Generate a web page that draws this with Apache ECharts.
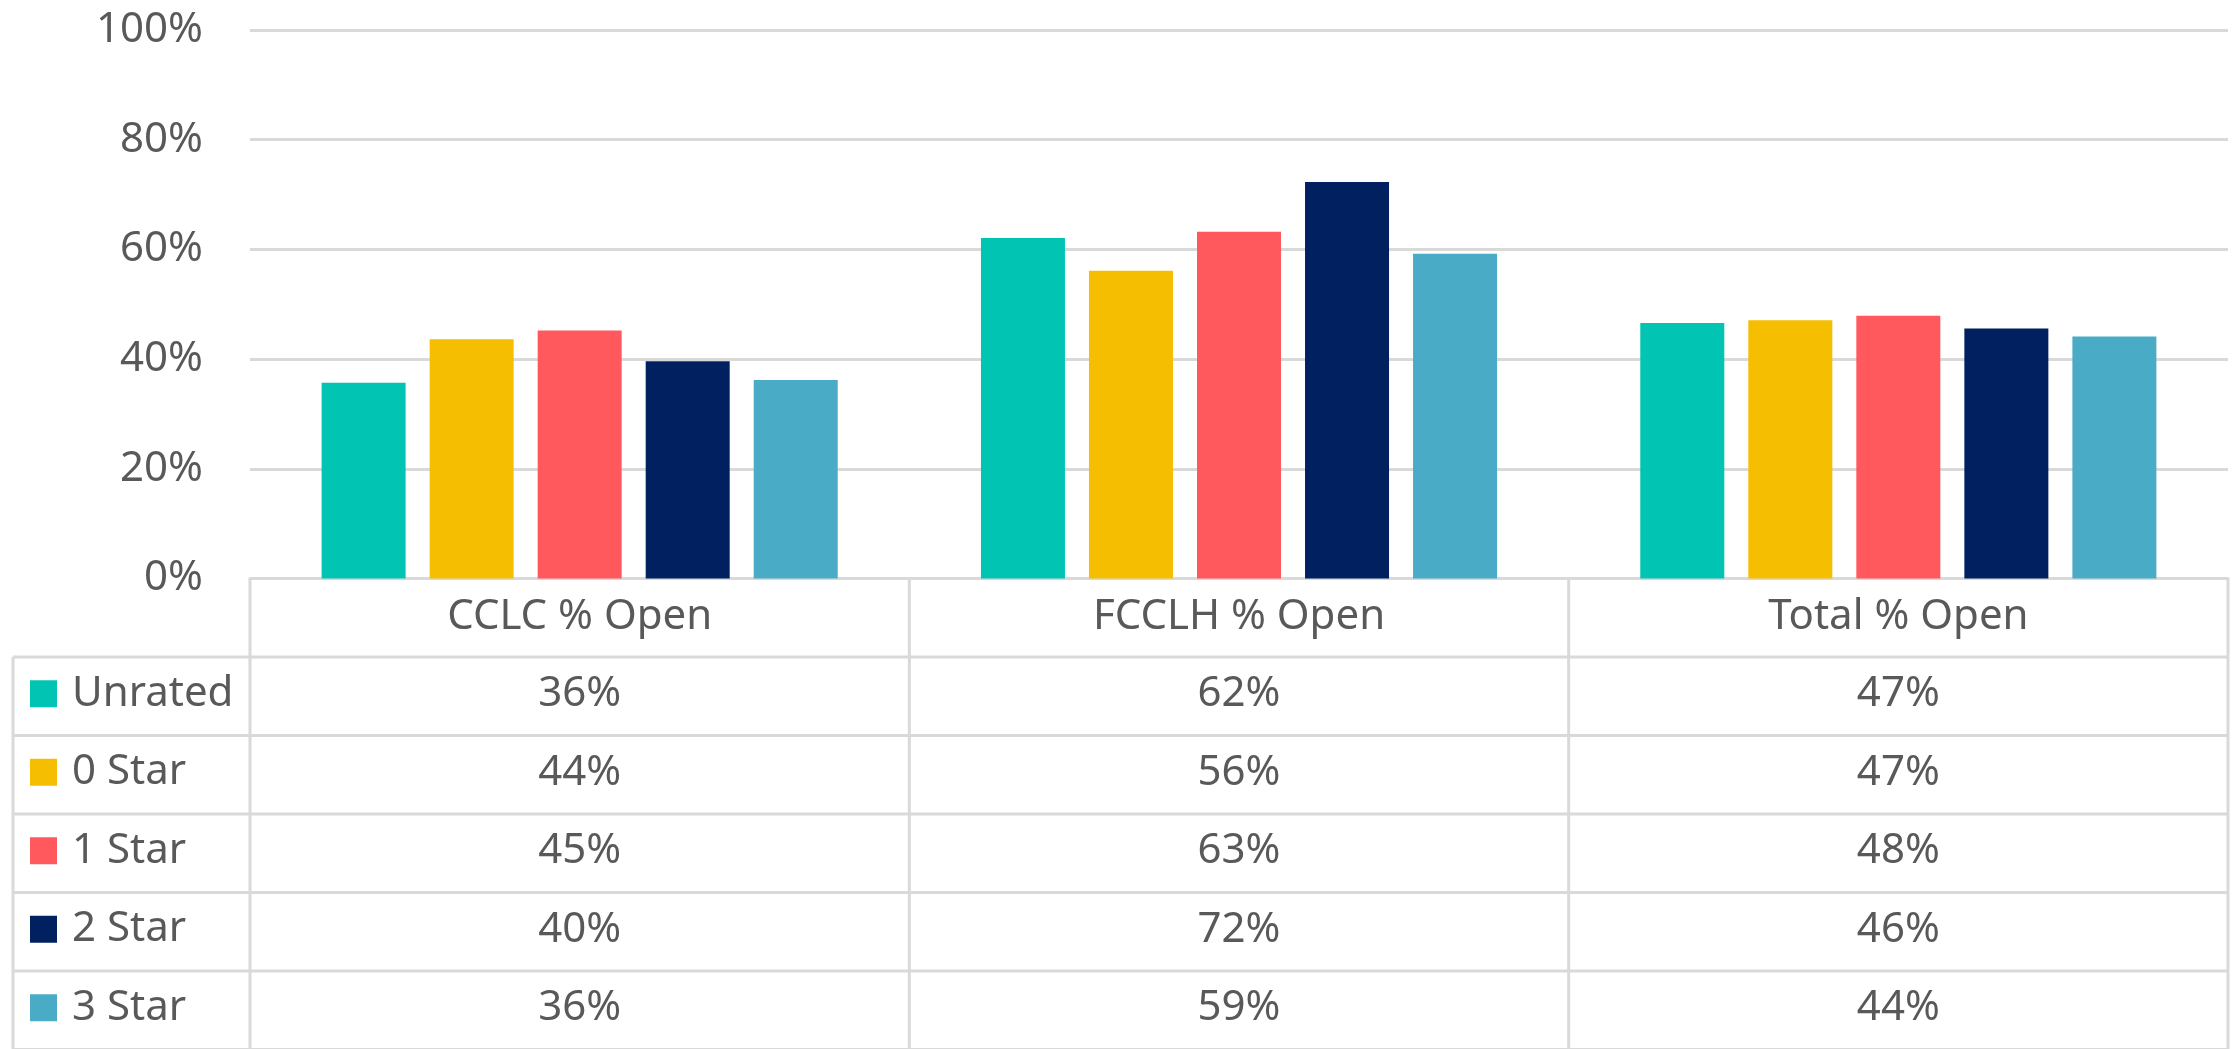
<!DOCTYPE html>
<html>
<head>
<meta charset="utf-8">
<script src="https://cdn.jsdelivr.net/npm/echarts@6/dist/echarts.min.js"></script>
<style>
  html, body { margin: 0; padding: 0; background: #ffffff; }
  #chart { width: 2239px; height: 1049px; }
</style>
</head>
<body>
<div id="chart"></div>
<script>
// ---- data ----
const categories = ['CCLC % Open', 'FCCLH % Open', 'Total % Open'];
const seriesNames = ['Unrated', '0 Star', '1 Star', '2 Star', '3 Star'];
const unrated = [35.7, 62.1, 46.6];
const star0 = [43.6, 56.1, 47.1];
const star1 = [45.2, 63.2, 47.9];
const star2 = [39.6, 72.3, 45.6];
const star3 = [36.2, 59.2, 44.1];
const yMin = 0, yMax = 100, yStep = 20;

const seriesValues = [unrated, star0, star1, star2, star3];
const colors = ['#01C4B3', '#F6BE00', '#FF585D', '#00205F', '#4AABC6'];
const textColor = '#595959';
const lineColor = '#D9D9D9';
const FONT = '"Noto Sans", "Open Sans", sans-serif';
const FS = 42;
const ROW_H = 78.5;

const chart = echarts.init(document.getElementById('chart'), null, { renderer: 'canvas' });

const option = {
  animation: false,
  backgroundColor: '#ffffff',
  textStyle: { fontFamily: FONT },
  grid: { left: 250, right: 11, top: 30, bottom: 470.5, containLabel: false },
  legend: {
    orient: 'vertical',
    left: 30,
    top: 656.5 + ROW_H / 2 - 23,
    itemWidth: 27,
    itemHeight: 27,
    itemGap: ROW_H - 42,
    icon: 'rect',
    padding: 0,
    selectedMode: false,
    textStyle: { fontSize: FS, color: textColor, fontFamily: FONT, lineHeight: 42, padding: [0, 0, 0, 10] },
    data: seriesNames
  },
  xAxis: {
    type: 'category',
    data: categories,
    axisLine: { show: true, lineStyle: { color: lineColor, width: 3 } },
    axisTick: { show: false },
    axisLabel: {
      show: true, fontSize: FS, color: textColor, fontFamily: FONT,
      margin: ROW_H / 2 - 1, verticalAlign: 'middle', interval: 0
    },
    splitLine: { show: false }
  },
  yAxis: {
    type: 'value',
    min: yMin, max: yMax, interval: yStep,
    axisLine: { show: false },
    axisTick: { show: false },
    axisLabel: { formatter: '{value}%', fontSize: FS, color: textColor, fontFamily: FONT, margin: 47 },
    splitLine: { show: true, lineStyle: { color: lineColor, width: 3 } }
  },
  series: seriesNames.map((name, i) => ({
    name: name,
    type: 'bar',
    data: seriesValues[i],
    barWidth: 84,
    barGap: '28.6%',
    itemStyle: { color: colors[i] }
  }))
};
chart.setOption(option);

// ---- data table under the chart, positioned from the axes ----
const c0 = chart.convertToPixel({ xAxisIndex: 0 }, 0);
const c1 = chart.convertToPixel({ xAxisIndex: 0 }, 1);
const band = c1 - c0;
const gridLeft = c0 - band / 2;
const gridRight = gridLeft + band * categories.length;
const tableTop = chart.convertToPixel({ yAxisIndex: 0 }, 0);
const headerBottom = tableTop + ROW_H;
const bottom = 1049 + 5;
const legendLeft = 13;

const graphics = [];
function hline(x1, x2, y) {
  graphics.push({ type: 'line', shape: { x1: x1, y1: y, x2: x2, y2: y }, style: { stroke: lineColor, lineWidth: 3 }, silent: true });
}
function vline(x, y1, y2) {
  graphics.push({ type: 'line', shape: { x1: x, y1: y1, x2: x, y2: y2 }, style: { stroke: lineColor, lineWidth: 3 }, silent: true });
}
// horizontal lines: header bottom and row separators
for (let r = 0; r <= seriesNames.length; r++) {
  const y = headerBottom + r * ROW_H;
  hline(legendLeft, gridRight, y);
}
// vertical lines
vline(legendLeft, headerBottom, bottom);
for (let k = 0; k <= categories.length; k++) {
  vline(gridLeft + k * band, tableTop, bottom);
}
// value cells
seriesValues.forEach((vals, r) => {
  const cy = headerBottom + r * ROW_H + ROW_H / 2 - 2;
  vals.forEach((v, k) => {
    graphics.push({
      type: 'text',
      x: gridLeft + (k + 0.5) * band,
      y: cy,
      style: {
        text: Math.round(v) + '%',
        fill: textColor,
        font: FS + 'px ' + FONT,
        textAlign: 'center',
        textVerticalAlign: 'middle'
      },
      silent: true
    });
  });
});
chart.setOption({ graphic: graphics });
</script>
</body>
</html>
